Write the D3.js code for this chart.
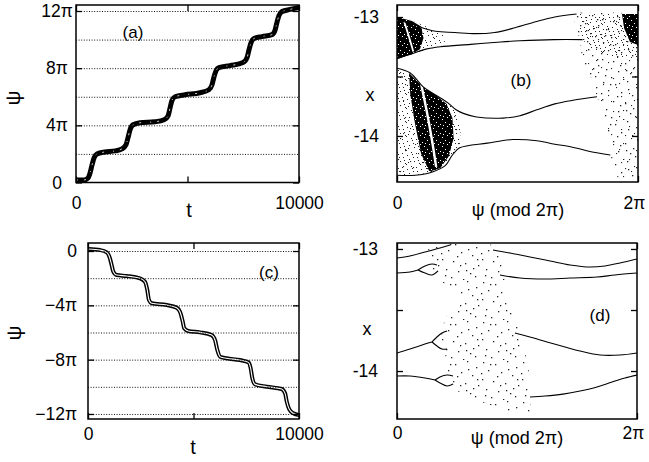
<!DOCTYPE html>
<html>
<head>
<meta charset="utf-8">
<script src="https://cdn.jsdelivr.net/npm/d3@7"></script>
<style>
  body { margin: 0; background: #fff; }
  svg { display: block; font-family: "Liberation Sans", Arial, sans-serif; }
</style>
</head>
<body>
<div id="container"></div>
<script>
const width = 649;
const height = 462;

// DATA
// (a) psi(t), psi in units of pi
const tA = [45, 360, 540, 630, 720, 810, 940, 1300, 1750, 2060, 2240, 2330, 2420, 2560,
  2870, 3540, 3950, 4130, 4220, 4300, 4440, 4890, 5560, 5960, 6100, 6190, 6280, 6410,
  6900, 7490, 7670, 7760, 7850, 7980, 8340, 8790, 8920, 9010, 9100, 9240, 9600, 10000];
const psiA = [0.18, 0.18, 0.32, 0.67, 1.23, 1.72, 2.0, 2.14, 2.21, 2.35, 2.63, 3.12, 3.68, 4.04,
  4.18, 4.25, 4.39, 4.67, 5.23, 5.72, 6.0, 6.14, 6.28, 6.49, 6.84, 7.4, 7.82, 8.04,
  8.18, 8.39, 8.74, 9.3, 9.79, 10.07, 10.21, 10.35, 10.63, 11.19, 11.68, 11.96, 12.11, 12.25];

// (c) psi(t), psi in units of pi
const tC = [14, 570, 890, 1040, 1120, 1200, 1360, 1830, 2460, 2700, 2810, 2890, 3020,
  3730, 4200, 4360, 4490, 4560, 4750, 5310, 5860, 6020, 6130, 6260,
  6570, 7200, 7600, 7710, 7790, 7920, 8470, 9180, 9340, 9420, 9540, 9730, 10000];
const psiC = [0.15, 0.07, -0.1, -0.54, -1.03, -1.52, -1.77, -1.84, -2.01, -2.26, -2.87, -3.61, -3.85,
  -3.98, -4.17, -4.47, -5.2, -5.69, -5.89, -5.99, -6.19, -6.55, -7.29, -7.78,
  -7.9, -8.03, -8.2, -8.64, -9.38, -9.82, -9.99, -10.16, -10.48, -11.09, -11.66, -11.95, -12.08];

// (b) [psi mod 2pi in units of pi, x]
const bCurve1 = [[0.01, -13.02], [0.15, -13.07], [0.32, -13.12], [0.48, -13.13], [0.65, -13.14],
  [0.81, -13.13], [0.98, -13.09], [1.15, -13.04], [1.31, -13.0], [1.49, -12.975]];
const bCurve2 = [[0.0, -13.35], [0.12, -13.31], [0.24, -13.27], [0.36, -13.25], [0.61, -13.23],
  [0.86, -13.21], [1.02, -13.2], [1.3, -13.19], [1.54, -13.19]];
const bCurve3 = [[0.0, -13.43], [0.11, -13.47], [0.22, -13.59], [0.32, -13.655], [0.42, -13.72],
  [0.49, -13.78], [0.55, -13.81], [0.66, -13.84], [0.88, -13.85], [1.02, -13.83],
  [1.16, -13.78], [1.31, -13.73], [1.46, -13.7], [1.66, -13.67]];
const bCurve4 = [[0.0, -14.33], [0.15, -14.33], [0.3, -14.3], [0.4, -14.25], [0.46, -14.16],
  [0.52, -14.10], [0.75, -14.06], [0.96, -14.03], [1.16, -14.04], [1.31, -14.07],
  [1.44, -14.09], [1.6, -14.13], [1.77, -14.16]];
const bWedgeUpper = [[0, -13.0], [0.11, -13.025], [0.23, -13.076], [0.36, -13.126], [0.42, -13.18],
  [0.36, -13.245], [0.23, -13.277], [0.11, -13.319], [0, -13.353]];
const bWedgeUpperCore = [[0, -13.0], [0.124, -13.034], [0.2, -13.08], [0.22, -13.176],
  [0.19, -13.27], [0.124, -13.311], [0, -13.353]];
const bStripeUpper = [[0.06, -13.04], [0.1, -13.168], [0.135, -13.29]];
const bWedgeLower = [[0, -13.429], [0.108, -13.471], [0.216, -13.588], [0.315, -13.655], [0.415, -13.723],
  [0.49, -13.78], [0.53, -13.9], [0.52, -14.1], [0.46, -14.16], [0.4, -14.25],
  [0.3, -14.3], [0.15, -14.33], [0, -14.33]];
const bWedgeLowerCore = [[0.1, -13.47], [0.216, -13.588], [0.33, -13.665], [0.41, -13.73],
  [0.46, -13.85], [0.47, -14.02], [0.43, -14.17], [0.36, -14.27], [0.27, -14.3], [0.2, -14.15],
  [0.15, -13.9], [0.11, -13.65]];
const bStripeLower = [[0.2, -13.56], [0.245, -13.782], [0.29, -14.034], [0.325, -14.26]];
const bScatter = [[1.461, -12.966], [1.685, -12.958], [1.892, -12.966], [2, -12.975], [2, -14.353],
  [1.834, -14.353], [1.784, -14.244], [1.768, -14.076], [1.726, -13.866], [1.66, -13.672],
  [1.602, -13.487], [1.535, -13.345], [1.519, -13.193], [1.477, -13.067]];
const bScatterTop = [[1.519, -12.975], [2, -12.975], [2, -13.361], [1.809, -13.345], [1.602, -13.277], [1.519, -13.151]];
const bScatterCorner = [[1.867, -12.975], [2, -12.975], [2, -13.235], [1.934, -13.21], [1.884, -13.092]];

// (d) [psi mod 2pi in units of pi, x]
const dCurve1L = [[0, -13.074], [0.108, -13.057], [0.233, -13.025], [0.358, -12.992], [0.442, -12.967]];
const dCurve1R = [[0.8, -13.008], [0.942, -13.033], [1.108, -13.066], [1.275, -13.098], [1.442, -13.131],
  [1.608, -13.148], [1.733, -13.139], [1.858, -13.115], [2, -13.082]];
const dCurve2L = [[0, -13.197], [0.108, -13.189], [0.175, -13.172]];
const dLoop2a = [[0.175, -13.172], [0.233, -13.139], [0.292, -13.123], [0.333, -13.131]];
const dLoop2b = [[0.175, -13.172], [0.233, -13.197], [0.292, -13.213], [0.342, -13.18]];
const dCurve2R = [[0.858, -13.213], [1.025, -13.238], [1.233, -13.246], [1.442, -13.238], [1.667, -13.23],
  [1.817, -13.213], [2, -13.197]];
const dCurve3L = [[0, -13.852], [0.108, -13.82], [0.233, -13.779], [0.292, -13.762]];
const dLoop3a = [[0.292, -13.762], [0.333, -13.721], [0.375, -13.689], [0.417, -13.672]];
const dLoop3b = [[0.292, -13.762], [0.333, -13.795], [0.375, -13.82], [0.417, -13.82]];
const dCurve3R = [[0.983, -13.689], [1.108, -13.721], [1.25, -13.762], [1.4, -13.803], [1.525, -13.836],
  [1.692, -13.869], [1.858, -13.869], [2, -13.852]];
const dCurve4L = [[0, -14.041], [0.108, -14.041], [0.233, -14.057], [0.317, -14.074]];
const dLoop4a = [[0.317, -14.074], [0.358, -14.049], [0.417, -14.033], [0.467, -14.041]];
const dLoop4b = [[0.317, -14.074], [0.358, -14.098], [0.417, -14.123], [0.467, -14.107]];
const dCurve4R = [[1.108, -14.213], [1.233, -14.205], [1.383, -14.189], [1.525, -14.164], [1.667, -14.131],
  [1.792, -14.09], [1.9, -14.057], [2, -14.033]];
const dCloud = [[0.258, -12.992], [0.4, -12.959], [0.608, -12.951], [0.817, -12.967], [0.883, -13.074],
  [0.917, -13.238], [0.9, -13.418], [0.983, -13.566], [1.042, -13.746], [1.092, -13.951],
  [1.117, -14.156], [1.108, -14.336], [0.958, -14.344], [0.775, -14.279], [0.608, -14.221],
  [0.458, -14.139], [0.417, -13.992], [0.4, -13.844], [0.358, -13.689], [0.425, -13.516],
  [0.542, -13.402], [0.4, -13.295], [0.292, -13.156]];

// tick values
const yTicksA = [0, 4, 8, 12];
const gridA = [2, 4, 6, 8, 10, 12];
const yTicksC = [0, -4, -8, -12];
const gridC = [0, -2, -4, -6, -8, -10, -12];
const tTicks = [0, 5000, 10000];
const xTicksBD = [0, 2];
const yTicksBD = [-13, -13.5, -14];

// SVG
const svg = d3.select("#container").append("svg")
  .attr("width", width)
  .attr("height", height);
const defs = svg.append("defs");

// dot textures for the point clouds
function dotPattern(id, size, dots, bg, dot) {
  const p = defs.append("pattern")
    .attr("id", id)
    .attr("patternUnits", "userSpaceOnUse")
    .attr("width", size).attr("height", size);
  if (bg) p.append("rect").attr("width", size).attr("height", size).attr("fill", bg);
  p.selectAll(".dot").data(dots).enter().append("rect")
    .attr("x", d => d[0]).attr("y", d => d[1])
    .attr("width", dot || 1).attr("height", dot || 1)
    .attr("fill", bg ? "#fff" : "#222");
}
dotPattern("sparse", 40, [[3, 2], [15, 4], [27, 1], [36, 7], [8, 10], [21, 12], [32, 15], [2, 19],
  [13, 21], [25, 23], [38, 25], [6, 29], [18, 31], [30, 33], [11, 37], [23, 39], [35, 36],
  [28, 9], [17, 16], [5, 35], [10, 4], [33, 28], [20, 25], [1, 13], [37, 19], [26, 30]], null, 1.3);
dotPattern("sparse2", 33, [[4, 6], [17, 2], [29, 11], [9, 18], [22, 21], [2, 27], [14, 29],
  [27, 30], [31, 3], [19, 12], [7, 1], [25, 17]], null, 1.1);
dotPattern("medium", 14, [[1, 1], [6, 0], [11, 3], [3, 5], [8, 7], [13, 9], [0, 10], [5, 12],
  [10, 13], [7, 3], [2, 8], [12, 6]]);
dotPattern("dense", 9, [[1, 2], [6, 0], [4, 5], [8, 7], [2, 8]], "#000");

// PANELS
function makePanel(id, box, xDomain, yDomain) {
  const x = d3.scaleLinear().domain(xDomain).range([box.left, box.right]);
  const y = d3.scaleLinear().domain(yDomain).range([box.bottom, box.top]);
  defs.append("clipPath").attr("id", "clip-" + id).append("rect")
    .attr("x", box.left).attr("y", box.top)
    .attr("width", box.right - box.left).attr("height", box.bottom - box.top);
  const g = svg.append("g");
  const plot = g.append("g").attr("clip-path", "url(#clip-" + id + ")");
  return { box, x, y, g, plot };
}

const pA = makePanel("a", { left: 76, right: 299, top: 5, bottom: 182.5 }, [0, 10000], [0, 12.42]);
const pB = makePanel("b", { left: 397, right: 638, top: 5, bottom: 182 }, [0, 2], [-14.387, -12.899]);
const pC = makePanel("c", { left: 88, right: 299, top: 243, bottom: 419 }, [0, 10000], [-12.37, 0.59]);
const pD = makePanel("d", { left: 397, right: 637, top: 243, bottom: 419 }, [0, 2], [-14.393, -12.951]);

function styleText(sel, size) {
  sel.selectAll("text").attr("font-size", size).attr("fill", "#000")
    .attr("font-family", "'Liberation Sans', Arial, sans-serif");
}

// AXES
function drawAxes(P, o) {
  const b = P.box;
  if (o.grid) {
    P.g.append("g")
      .attr("transform", "translate(" + b.left + ",0)")
      .call(d3.axisLeft(P.y).tickValues(o.grid).tickSize(-(b.right - b.left)).tickFormat(""))
      .call(s => s.select(".domain").remove())
      .selectAll("line")
      .attr("stroke", "#111").attr("stroke-width", 1).attr("stroke-dasharray", "1,1.6");
  }
  const left = P.g.append("g")
    .attr("transform", "translate(" + b.left + ",0)")
    .call(d3.axisLeft(P.y).tickValues(o.yTicks).tickSize(-6).tickSizeOuter(0)
      .tickPadding(o.yPad).tickFormat(o.yFormat));
  left.select(".domain").remove();
  styleText(left, 17.5);
  P.g.append("g")
    .attr("transform", "translate(" + b.right + ",0)")
    .call(d3.axisRight(P.y).tickValues(o.yTicks).tickSize(-6).tickSizeOuter(0).tickFormat(""))
    .call(s => s.select(".domain").remove());
  const bottom = P.g.append("g")
    .attr("transform", "translate(0," + b.bottom + ")")
    .call(d3.axisBottom(P.x).tickValues(o.xTicks).tickSize(-6).tickSizeOuter(0)
      .tickPadding(o.xPad).tickFormat(o.xFormat));
  bottom.select(".domain").remove();
  styleText(bottom, 17.5);
  P.g.append("g")
    .attr("transform", "translate(0," + b.top + ")")
    .call(d3.axisTop(P.x).tickValues(o.xTicks).tickSize(-6).tickSizeOuter(0).tickFormat(""))
    .call(s => s.select(".domain").remove());
  P.g.selectAll(".tick line").filter(function () {
    return !this.getAttribute("stroke-dasharray");
  }).attr("stroke", "#000").attr("stroke-width", 1.3);
  P.g.append("rect")
    .attr("x", b.left).attr("y", b.top)
    .attr("width", b.right - b.left).attr("height", b.bottom - b.top)
    .attr("fill", "none").attr("stroke", "#000").attr("stroke-width", 1.5);
  return { left, bottom };
}

const piFmt = d => d === 0 ? "0" : (d < 0 ? "\u2212" + (-d) : d) + "\u03c0";
const tFmt = d => d === 5000 ? "" : String(d);
const xFmtBD = d => d === 0 ? "0" : "2\u03c0";
const yFmtBD = d => d === -13.5 ? "" : String(d);

const axA = drawAxes(pA, { grid: gridA, yTicks: yTicksA, yPad: 19, yFormat: piFmt, xTicks: tTicks, xPad: 14, xFormat: tFmt });
axA.left.selectAll("text").attr("text-anchor", "middle");
drawAxes(pC, { grid: gridC, yTicks: yTicksC, yPad: 11, yFormat: piFmt, xTicks: tTicks, xPad: 9, xFormat: tFmt });
const axB = drawAxes(pB, { yTicks: yTicksBD, yPad: 18, yFormat: yFmtBD, xTicks: xTicksBD, xPad: 15, xFormat: xFmtBD });
const axD = drawAxes(pD, { yTicks: yTicksBD, yPad: 19, yFormat: yFmtBD, xTicks: xTicksBD, xPad: 8, xFormat: xFmtBD });
[axB, axD].forEach(ax => ax.bottom.selectAll("text").filter(d => d === 2).attr("dx", -4));

// STAIRCASES
function staircase(P, ts, ps, outer, inner, dash) {
  const line = d3.line()
    .x((d, i) => P.x(ts[i]))
    .y(d => P.y(d))
    .curve(d3.curveMonotoneX);
  P.plot.append("path").attr("d", line(ps))
    .attr("fill", "none").attr("stroke", "#000").attr("stroke-width", outer)
    .attr("stroke-linejoin", "round");
  P.plot.append("path").attr("d", line(ps))
    .attr("fill", "none").attr("stroke", "#fff").attr("stroke-width", inner)
    .attr("stroke-dasharray", dash);
}
staircase(pA, tA, psiA, 5, 0.8, "1,6,2,9");
staircase(pC, tC, psiC, 4, 1.1, null);

// PHASE PORTRAITS
function region(P, pts, fill) {
  const line = d3.line().x(d => P.x(d[0])).y(d => P.y(d[1])).curve(d3.curveLinearClosed);
  P.plot.append("path").attr("d", line(pts)).attr("fill", fill);
}
function curve(P, pts, w, color) {
  const line = d3.line().x(d => P.x(d[0])).y(d => P.y(d[1])).curve(d3.curveCatmullRom);
  P.plot.append("path").attr("d", line(pts))
    .attr("fill", "none").attr("stroke", color || "#000").attr("stroke-width", w || 1.1);
}

// (b)
region(pB, bScatter, "url(#sparse)");
region(pB, bScatter, "url(#sparse2)");
region(pB, bScatterTop, "url(#medium)");
region(pB, bScatterCorner, "url(#dense)");
region(pB, bWedgeUpper, "url(#medium)");
region(pB, bWedgeUpperCore, "url(#dense)");
curve(pB, bStripeUpper, 1.8, "#fff");
region(pB, bWedgeLower, "url(#medium)");
region(pB, bWedgeLower, "url(#sparse2)");
region(pB, bWedgeLowerCore, "url(#dense)");
curve(pB, bStripeLower, 2.4, "#fff");
[bCurve1, bCurve2, bCurve3, bCurve4].forEach(c => curve(pB, c));

// (d)
region(pD, dCloud, "url(#sparse)");
[dCurve1L, dCurve1R, dCurve2L, dLoop2a, dLoop2b, dCurve2R,
  dCurve3L, dLoop3a, dLoop3b, dCurve3R, dCurve4L, dLoop4a, dLoop4b, dCurve4R]
  .forEach(c => curve(pD, c));

// LABELS
function label(txt, x, y, size, rot) {
  const t = svg.append("text")
    .attr("x", x).attr("y", y)
    .attr("text-anchor", "middle")
    .attr("font-size", size)
    .text(txt);
  if (rot) t.attr("transform", "rotate(" + rot + "," + x + "," + y + ")");
  return t;
}
label("(a)", 133, 38, 17);
label("(b)", 521, 86, 17);
label("(c)", 269, 278, 17);
label("(d)", 600, 321, 17);
label("t", 189, 217, 20);
label("t", 193, 454, 20);
label("\u03c8", 20, 98, 21, -90);
label("\u03c8", 21, 333, 21, -90);
label("x", 370, 101, 18);
label("x", 367, 335, 18);
label("\u03c8 (mod 2\u03c0)", 518, 216, 18);
label("\u03c8 (mod 2\u03c0)", 517, 444, 18);
</script>
</body>
</html>
